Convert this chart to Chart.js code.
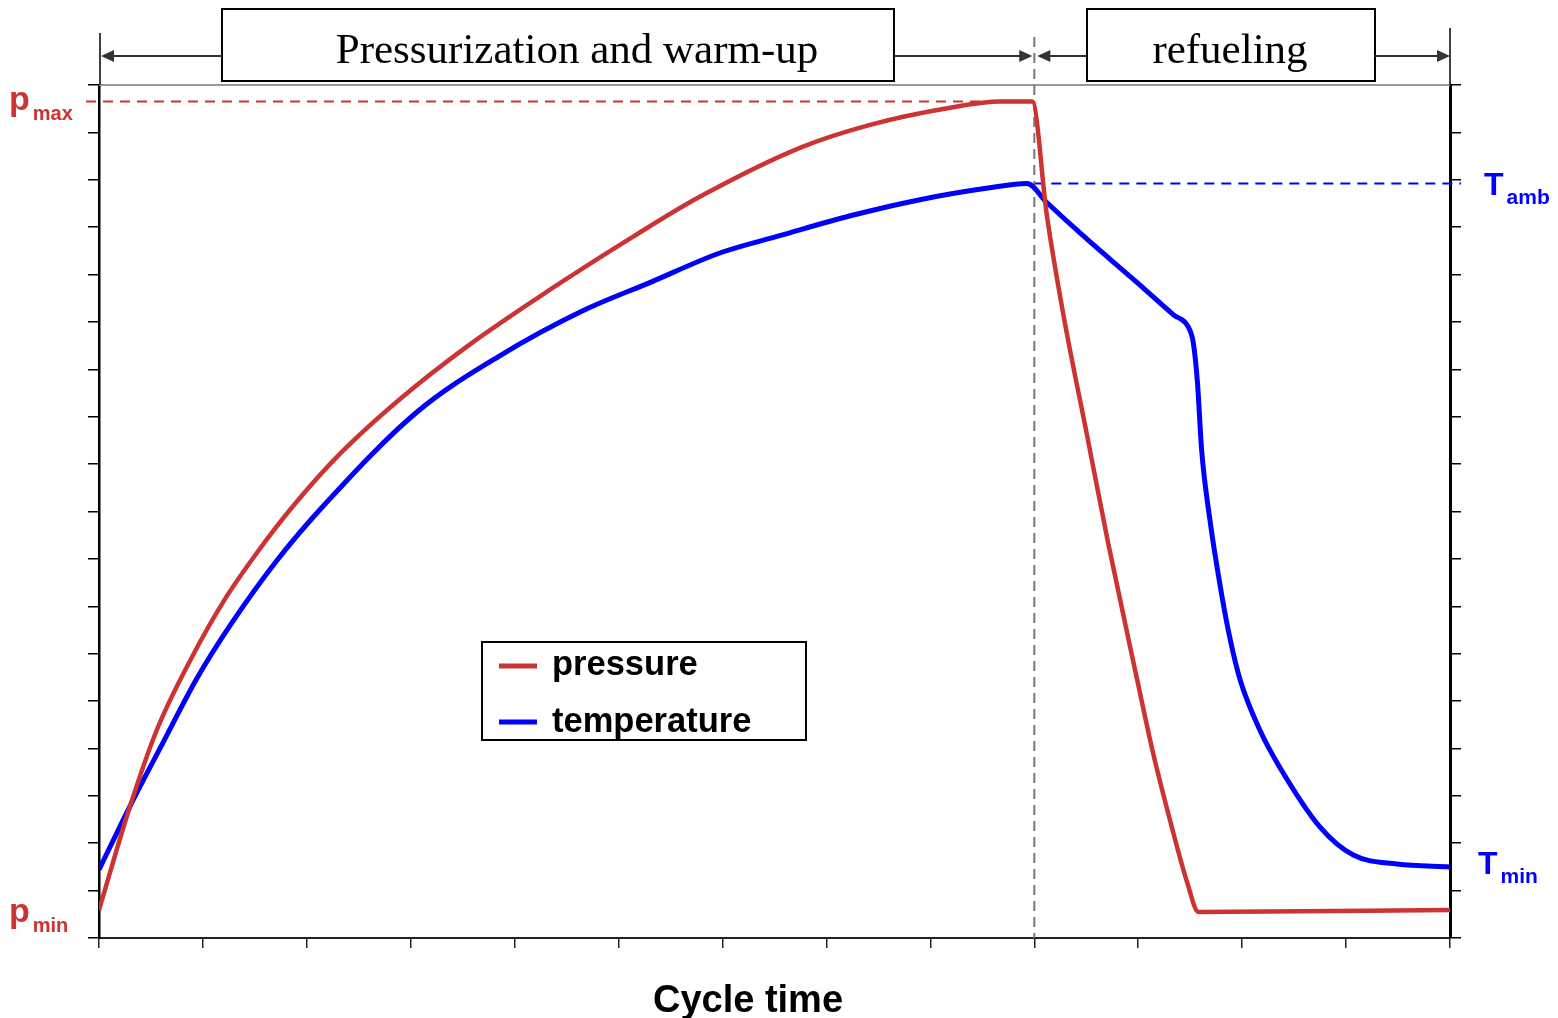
<!DOCTYPE html>
<html>
<head>
<meta charset="utf-8">
<script src="https://cdn.jsdelivr.net/npm/chart.js@4.4.0/dist/chart.umd.min.js"></script>
<style>
  html, body { margin: 0; padding: 0; background: #fff; }
  #wrap { width: 1558px; height: 1018px; position: relative; }
</style>
</head>
<body>
<div id="wrap"><canvas id="cycle"></canvas></div>
<script>
// values are in grid divisions: x = cycle time (13 divisions), y = 18 divisions
const X_MAX = 13;
const Y_MAX = 18;

const pressureX = [0, 0.30, 0.56, 0.89, 1.20, 1.52, 1.87, 2.32, 2.90, 3.54, 4.34, 5.14, 5.78, 6.75, 7.42, 8.19, 8.67, 8.98, 9.12, 9.28, 9.51, 9.71, 9.99, 10.14, 10.31, 10.47, 10.58, 13.0];
const pressureY = [0.59, 2.79, 4.41, 5.91, 7.11, 8.13, 9.12, 10.22, 11.38, 12.48, 13.68, 14.80, 15.64, 16.68, 17.16, 17.52, 17.65, 17.65, 15.26, 13.15, 10.58, 8.34, 5.45, 3.93, 2.45, 1.18, 0.55, 0.59];

const temperatureX = [0, 0.30, 0.62, 0.94, 1.26, 1.71, 2.16, 3.06, 3.86, 4.66, 5.30, 5.98, 6.55, 7.23, 7.90, 8.57, 8.93, 9.12, 9.51, 9.99, 10.34, 10.48, 10.53, 10.57, 10.61, 10.69, 10.79, 10.88, 10.98, 11.17, 11.36, 11.75, 12.07, 12.49, 13.0];
const temperatureY = [1.44, 2.79, 4.14, 5.47, 6.59, 7.96, 9.12, 11.10, 12.29, 13.24, 13.83, 14.46, 14.82, 15.24, 15.58, 15.83, 15.92, 15.52, 14.74, 13.83, 13.15, 12.90, 12.56, 11.72, 10.30, 8.82, 7.41, 6.35, 5.45, 4.39, 3.61, 2.34, 1.75, 1.56, 1.50];

// reference levels
const P_MAX = 17.65;
const P_MIN = 0.59;
const T_AMB = 15.92;
const T_MIN = 1.50;
const SWITCH_T = 9.0; // end of pressurization, start of refueling

const seriesLabels = ["pressure", "temperature"];
const phaseLabels = ["Pressurization and warm-up", "refueling"];
const axisTitle = "Cycle time";

const RED = "#cc3333";
const BLUE = "#0000ff";
const SANS = "'Liberation Sans', Arial, sans-serif";
const SERIF = "'Liberation Serif', 'Times New Roman', serif";

const zip = (xs, ys) => xs.map((v, i) => ({ x: v, y: ys[i] }));

function seg(ctx, x1, y1, x2, y2) {
  ctx.beginPath();
  ctx.moveTo(x1, y1);
  ctx.lineTo(x2, y2);
  ctx.stroke();
}

// arrow from x1 to the tip at x2
function arrow(ctx, x1, x2, yy) {
  const dir = x2 > x1 ? 1 : -1;
  seg(ctx, x1, yy, x2 - dir * 10, yy);
  ctx.beginPath();
  ctx.moveTo(x2, yy);
  ctx.lineTo(x2 - dir * 13, yy - 6);
  ctx.lineTo(x2 - dir * 13, yy + 6);
  ctx.closePath();
  ctx.fill();
}

function subLabel(ctx, main, sub, x, yMain, ySub, color, bigSize, smallSize, gap) {
  ctx.fillStyle = color;
  ctx.textAlign = "left";
  ctx.textBaseline = "alphabetic";
  ctx.font = "bold " + bigSize + "px " + SANS;
  ctx.fillText(main, x, yMain);
  const w = ctx.measureText(main).width;
  ctx.font = "bold " + smallSize + "px " + SANS;
  ctx.fillText(sub, x + w + gap, ySub);
}

const overlay = {
  id: "overlay",
  beforeDatasetsDraw(chart) {
    const { ctx, chartArea: a, scales: { x, y } } = chart;
    const xs = x.getPixelForValue(SWITCH_T);
    ctx.save();
    ctx.lineWidth = 2;
    ctx.strokeStyle = "#999";
    seg(ctx, a.left, a.top, a.right, a.top);

    ctx.setLineDash([10, 7]);
    ctx.strokeStyle = RED;
    const yp = y.getPixelForValue(P_MAX);
    seg(ctx, 86, yp, xs, yp);

    ctx.strokeStyle = BLUE;
    const yt = y.getPixelForValue(T_AMB);
    seg(ctx, xs, yt, a.right + 11, yt);

    ctx.strokeStyle = "#777";
    ctx.setLineDash([10, 6]);
    seg(ctx, xs, 37, xs, a.bottom);
    ctx.restore();
  },
  afterDraw(chart) {
    const { ctx, chartArea: a, scales: { x, y } } = chart;
    const x0 = x.getPixelForValue(0);
    const x1 = x.getPixelForValue(X_MAX);
    const xs = x.getPixelForValue(SWITCH_T);
    ctx.save();

    // axis lines running up to the phase arrows
    ctx.strokeStyle = "#000";
    ctx.lineWidth = 1.5;
    seg(ctx, x0 + 1, 33, x0 + 1, a.top);
    seg(ctx, x1, 28, x1, a.top);

    // phase boxes
    ctx.lineWidth = 2;
    ctx.strokeStyle = "#000";
    ctx.fillStyle = "#fff";
    ctx.fillRect(222, 9, 672, 72);
    ctx.strokeRect(222, 9, 672, 72);
    ctx.fillRect(1087, 9, 288, 72);
    ctx.strokeRect(1087, 9, 288, 72);
    ctx.fillStyle = "#000";
    ctx.font = "43px " + SERIF;
    ctx.textAlign = "center";
    ctx.textBaseline = "alphabetic";
    ctx.fillText(phaseLabels[0], 577, 63);
    ctx.fillText(phaseLabels[1], 1230, 63);

    // phase arrows
    ctx.strokeStyle = "#333";
    ctx.fillStyle = "#333";
    ctx.lineWidth = 2;
    arrow(ctx, 222, x0 + 2, 56);
    arrow(ctx, 894, xs - 2, 56);
    arrow(ctx, 1087, xs + 3, 56);
    arrow(ctx, 1375, x1, 56);

    // legend
    ctx.strokeStyle = "#000";
    ctx.lineWidth = 2;
    ctx.strokeRect(482, 642, 324, 98);
    ctx.lineWidth = 5;
    ctx.strokeStyle = RED;
    seg(ctx, 499, 666, 537, 666);
    ctx.strokeStyle = BLUE;
    seg(ctx, 499, 722, 537, 722);
    ctx.fillStyle = "#000";
    ctx.font = "bold 34.5px " + SANS;
    ctx.textAlign = "left";
    ctx.fillText(seriesLabels[0], 552, 675);
    ctx.fillText(seriesLabels[1], 552, 732);

    // level labels
    const yp = y.getPixelForValue(P_MAX);
    const ypn = y.getPixelForValue(P_MIN);
    const yt = y.getPixelForValue(T_AMB);
    const ytn = y.getPixelForValue(T_MIN);
    subLabel(ctx, "p", "max", 9, yp + 8, yp + 18, RED, 34, 20, 3);
    subLabel(ctx, "p", "min", 9, ypn + 12, ypn + 22, RED, 34, 20, 3);
    subLabel(ctx, "T", "amb", 1484, yt + 11, yt + 20, BLUE, 32, 21, 3);
    subLabel(ctx, "T", "min", 1478, ytn + 7, ytn + 16, BLUE, 32, 21, 3);

    // axis title
    ctx.fillStyle = "#000";
    ctx.font = "bold 38px " + SANS;
    ctx.textAlign = "center";
    ctx.fillText(axisTitle, 748, 1012);
    ctx.restore();
  }
};

const tickGrid = { drawOnChartArea: false, drawTicks: true, tickLength: 11, color: "#000", lineWidth: 1.5 };

new Chart(document.getElementById("cycle"), {
  type: "line",
  data: {
    datasets: [
      {
        label: seriesLabels[0],
        data: zip(pressureX, pressureY),
        borderColor: RED,
        borderWidth: 4.5,
        pointRadius: 0,
        cubicInterpolationMode: "monotone",
        fill: false,
      },
      {
        label: seriesLabels[1],
        data: zip(temperatureX, temperatureY),
        borderColor: BLUE,
        borderWidth: 5,
        pointRadius: 0,
        cubicInterpolationMode: "monotone",
        fill: false,
      },
    ],
  },
  options: {
    animation: false,
    responsive: true,
    maintainAspectRatio: false,
    layout: { padding: { top: 85, left: 0, right: 0, bottom: 0 } },
    plugins: { legend: { display: false }, tooltip: { enabled: false } },
    scales: {
      x: {
        type: "linear",
        min: 0,
        max: X_MAX,
        ticks: { display: false, stepSize: 1 },
        grid: { ...tickGrid, tickLength: 10, color: "#222" },
        border: { display: true, color: "#222", width: 2 },
        afterFit: (s) => { s.height = 80; },
      },
      y: {
        position: "left",
        min: 0,
        max: Y_MAX,
        ticks: { display: false, stepSize: 1 },
        grid: tickGrid,
        border: { display: true, color: "#000", width: 2.5 },
        afterFit: (s) => { s.width = 99; },
      },
      y2: {
        position: "right",
        min: 0,
        max: Y_MAX,
        ticks: { display: false, stepSize: 1 },
        grid: tickGrid,
        border: { display: true, color: "#000", width: 3 },
        afterFit: (s) => { s.width = 108; },
      },
    },
  },
  plugins: [overlay],
});
</script>
</body>
</html>
